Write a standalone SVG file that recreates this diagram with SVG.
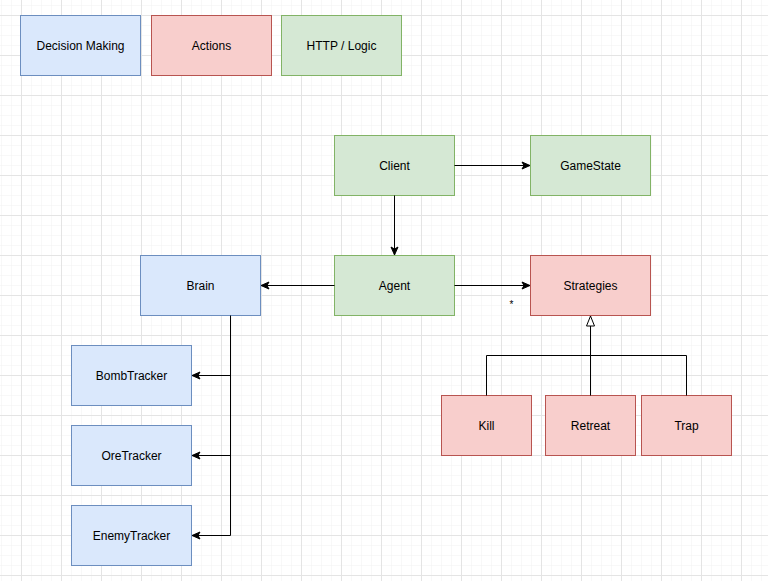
<svg xmlns="http://www.w3.org/2000/svg" width="768" height="581" viewBox="0 0 768 581">
<defs>
<pattern id="minor" x="1" y="5" width="10" height="10" patternUnits="userSpaceOnUse">
<path d="M0,0 H10 M0,0 V10" fill="none" stroke="#f1f1f1" stroke-width="1"/>
</pattern>
<pattern id="major" x="21" y="15" width="40" height="40" patternUnits="userSpaceOnUse">
<path d="M0,0.5 H40 M0.5,0 V40" fill="none" stroke="#e4e4e4" stroke-width="1"/>
</pattern>
<marker id="arr" viewBox="0 0 10 10" refX="9" refY="5" markerWidth="10" markerHeight="10" markerUnits="userSpaceOnUse" orient="auto">
<path d="M1,1.5 L9,5 L1,8.5 L3,5 Z" fill="#000" stroke="#000" stroke-width="1"/>
</marker>
<marker id="tri" viewBox="0 0 12 12" refX="11" refY="6" markerWidth="12" markerHeight="12" markerUnits="userSpaceOnUse" orient="auto">
<path d="M1,2 L11,6 L1,10 Z" fill="#fff" stroke="#000" stroke-width="1"/>
</marker>
</defs>
<style>
.b{fill:#dae8fc;stroke:#6c8ebf;stroke-width:1}
.r{fill:#f8cecc;stroke:#b85450;stroke-width:1}
.g{fill:#d5e8d4;stroke:#82b366;stroke-width:1}
text{font-family:"Liberation Sans",Arial,sans-serif;font-size:12px;fill:#000;text-anchor:middle;dominant-baseline:central}
.e{fill:none;stroke:#000;stroke-width:1}
</style>
<rect width="768" height="581" fill="#fff"/>
<rect width="768" height="581" fill="url(#minor)"/>
<rect width="768" height="581" fill="url(#major)"/>

<g id="legend-decision"><rect class="b" x="20.5" y="15.5" width="120" height="60"/><text x="80.5" y="45.5">Decision Making</text></g>
<g id="legend-actions"><rect class="r" x="151.5" y="15.5" width="120" height="60"/><text x="211.5" y="45.5">Actions</text></g>
<g id="legend-http"><rect class="g" x="281.5" y="15.5" width="120" height="60"/><text x="341.5" y="45.5">HTTP / Logic</text></g>

<g id="client"><rect class="g" x="334.5" y="135.5" width="120" height="60"/><text x="394.5" y="165.5">Client</text></g>
<g id="gamestate"><rect class="g" x="530.5" y="135.5" width="120" height="60"/><text x="590.5" y="165.5">GameState</text></g>
<g id="agent"><rect class="g" x="334.5" y="255.5" width="120" height="60"/><text x="394.5" y="285.5">Agent</text></g>
<g id="brain"><rect class="b" x="140.5" y="255.5" width="120" height="60"/><text x="200.5" y="285.5">Brain</text></g>
<g id="strategies"><rect class="r" x="530.5" y="255.5" width="120" height="60"/><text x="590.5" y="285.5">Strategies</text></g>
<g id="bombtracker"><rect class="b" x="71.5" y="345.5" width="120" height="60"/><text x="131.5" y="375.5">BombTracker</text></g>
<g id="oretracker"><rect class="b" x="71.5" y="425.5" width="120" height="60"/><text x="131.5" y="455.5">OreTracker</text></g>
<g id="enemytracker"><rect class="b" x="71.5" y="505.5" width="120" height="60"/><text x="131.5" y="535.5">EnemyTracker</text></g>
<g id="kill"><rect class="r" x="441.5" y="395.5" width="90" height="60"/><text x="486.5" y="425.5">Kill</text></g>
<g id="retreat"><rect class="r" x="545.5" y="395.5" width="90" height="60"/><text x="590.5" y="425.5">Retreat</text></g>
<g id="trap"><rect class="r" x="641.5" y="395.5" width="90" height="60"/><text x="686.5" y="425.5">Trap</text></g>

<g id="connectors">
<path class="e" d="M454.5,165.5 H530" marker-end="url(#arr)"/>
<path class="e" d="M394.5,195.5 V255" marker-end="url(#arr)"/>
<path class="e" d="M334.5,285.5 H261" marker-end="url(#arr)"/>
<path class="e" d="M454.5,285.5 H530" marker-end="url(#arr)"/>
<text x="511.5" y="304" style="font-size:10px">*</text>
<path class="e" d="M230.5,315.5 V535.5 H192" marker-end="url(#arr)"/>
<path class="e" d="M230.5,375.5 H192" marker-end="url(#arr)"/>
<path class="e" d="M230.5,455.5 H192" marker-end="url(#arr)"/>
<path class="e" d="M590.5,395.5 V316" marker-end="url(#tri)"/>
<path class="e" d="M486.5,395.5 V355.5 H686.5 V395.5"/>
</g>
</svg>
